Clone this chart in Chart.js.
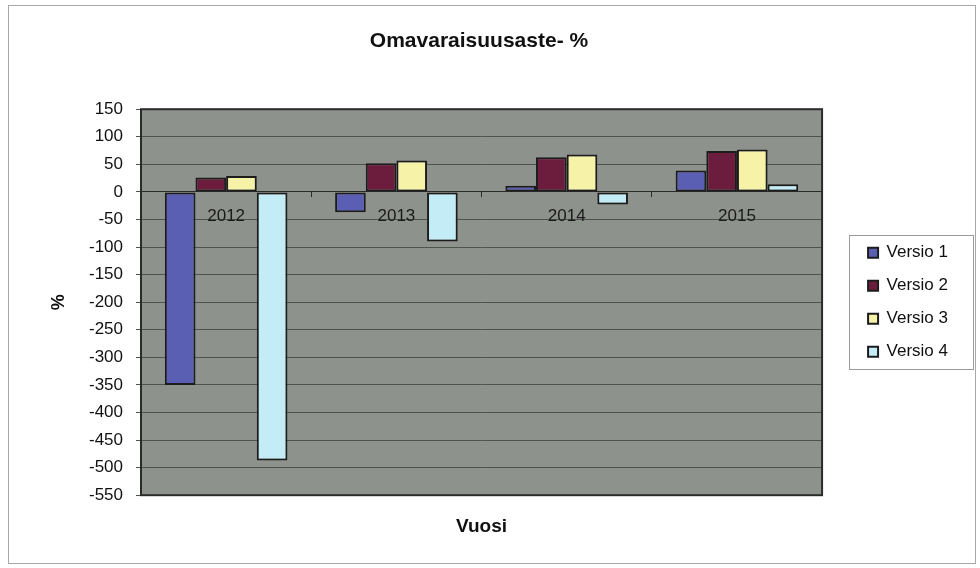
<!DOCTYPE html>
<html>
<head>
<meta charset="utf-8">
<title>Omavaraisuusaste- %</title>
<script src="https://cdn.jsdelivr.net/npm/chart.js@4.4.1/dist/chart.umd.min.js"></script>
<style>
    html, body { margin: 0; padding: 0; background: #fff; }
    canvas { display: block; }
</style>
</head>
<body>
<canvas id="chart" width="980" height="568"></canvas>
<script>
const years = ["2012", "2013", "2014", "2015"];
const versio1 = [-350, -37, 11, 39];
const versio2 = [26, 52, 63, 74];
const versio3 = [29, 57, 68, 77];
const versio4 = [-487, -90, -23, 14];
const seriesNames = ["Versio 1", "Versio 2", "Versio 3", "Versio 4"];
const yMin = -550, yMax = 150, yStep = 50;

const colors = ["#5b5fb3", "#6c1d3d", "#f6f2a8", "#c4ecf7"];
const font = "'Liberation Sans', Arial, sans-serif";

// gray plot background, dark frame, legend box and outer border
const excelLook = {
    id: "excelLook",
    beforeDraw(chart) {
        const { ctx, chartArea: a } = chart;
        ctx.save();
        ctx.fillStyle = "#8e928c";
        ctx.fillRect(a.left, a.top, a.right - a.left, a.bottom - a.top);
        ctx.restore();
    },
    afterDraw(chart) {
        const { ctx, chartArea: a } = chart;
        ctx.save();
        ctx.strokeStyle = "#2b2b2b";
        ctx.lineWidth = 2;
        ctx.strokeRect(a.left, a.top, a.right - a.left, a.bottom - a.top);

        const hb = chart.legend.legendHitBoxes;
        if (hb && hb.length) {
            const first = hb[0], last = hb[hb.length - 1];
            const top = first.top + first.height / 2 - 18;
            const bottom = last.top + last.height / 2 + 17;
            ctx.strokeStyle = "#9a9a9a";
            ctx.lineWidth = 1;
            ctx.strokeRect(849.5, Math.round(top) + 0.5, 124, Math.round(bottom - top));
        }

        ctx.strokeStyle = "#a8a8a8";
        ctx.lineWidth = 1;
        ctx.strokeRect(8.5, 5.5, 967, 558);
        ctx.restore();
    }
};

const datasets = [versio1, versio2, versio3, versio4].map((vals, i) => ({
    label: seriesNames[i],
    data: vals,
    backgroundColor: colors[i],
    borderColor: "#1c1c1c",
    borderWidth: 2,
    borderSkipped: false,
    categoryPercentage: 0.72,
    barPercentage: 1.0
}));

new Chart(document.getElementById("chart"), {
    type: "bar",
    data: { labels: years, datasets },
    plugins: [excelLook],
    options: {
        responsive: false,
        animation: false,
        layout: { padding: { left: 0, right: 22, top: 0, bottom: 0 } },
        plugins: {
            title: {
                display: true,
                text: "Omavaraisuusaste- %",
                color: "#111",
                font: { family: font, size: 21, weight: "bold" },
                padding: { top: 29, bottom: 55 }
            },
            legend: {
                position: "right",
                fullSize: false,
                labels: {
                    color: "#111",
                    font: { family: font, size: 17 },
                    boxWidth: 10,
                    boxHeight: 10,
                    padding: 16
                }
            },
            tooltip: { enabled: false }
        },
        scales: {
            x: {
                type: "category",
                position: { y: 0 },
                grid: {
                    offset: true,
                    drawOnChartArea: false,
                    drawTicks: true,
                    tickLength: 5,
                    color: "#2b2b2b"
                },
                border: { display: true, color: "#2b2b2b", width: 1 },
                ticks: {
                    color: "#1a1a1a",
                    font: { family: font, size: 17 },
                    padding: 9
                }
            },
            x2: {
                type: "category",
                position: "bottom",
                labels: years,
                grid: { display: false, drawTicks: false },
                border: { display: false },
                ticks: { display: false },
                title: {
                    display: true,
                    text: "Vuosi",
                    color: "#111",
                    font: { family: font, size: 19, weight: "bold" },
                    padding: { top: 20, bottom: 30 }
                }
            },
            y: {
                min: yMin,
                max: yMax,
                ticks: {
                    stepSize: yStep,
                    color: "#111",
                    font: { family: font, size: 17 },
                    padding: 13
                },
                grid: { color: "#4f534e", lineWidth: 1, tickLength: 5 },
                border: { display: false },
                title: {
                    display: true,
                    text: "%",
                    color: "#111",
                    font: { family: font, size: 18, weight: "bold" },
                    padding: { top: 48, bottom: 0 }
                },
                afterFit(scale) { scale.width = 141; }
            },
            spacer: {
                type: "linear",
                position: "right",
                display: true,
                grid: { display: false, drawTicks: false },
                border: { display: false },
                ticks: { display: false },
                afterFit(scale) { scale.width = 30; }
            }
        }
    }
});
</script>
</body>
</html>
